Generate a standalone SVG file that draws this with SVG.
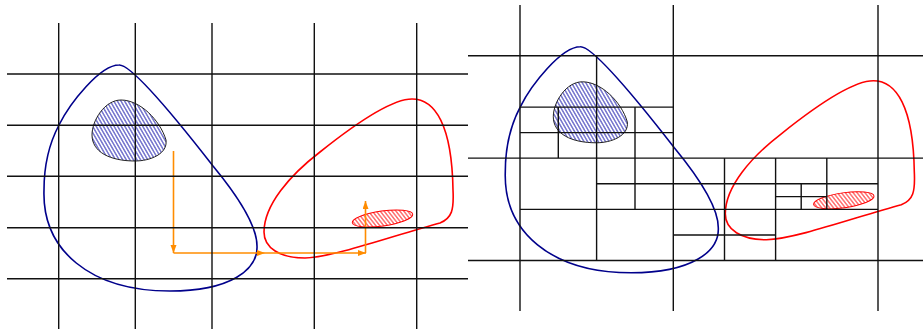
<svg xmlns="http://www.w3.org/2000/svg" xmlns:xlink="http://www.w3.org/1999/xlink" width="923" height="329" viewBox="0 0 923 329">
<style>
.grid line{stroke:#111;stroke-width:1.4;fill:none}
.blue{fill:none;stroke:#00008b;stroke-width:1.6}
.red{fill:none;stroke:#ff0000;stroke-width:1.6}
.blob{fill:url(#hatchBlue);stroke:#222;stroke-width:1}
.rell{fill:url(#hatchRed);stroke:#ff0000;stroke-width:1}
.arrow{fill:none;stroke:#ff8c00;stroke-width:1.6}
</style>
<defs>
<pattern id="hatchBlue" patternUnits="userSpaceOnUse" width="3.1" height="10" patternTransform="rotate(-30)">
<line x1="1.55" y1="-1" x2="1.55" y2="11" stroke="#2424b0" stroke-width="0.95"/>
</pattern>
<pattern id="hatchRed" patternUnits="userSpaceOnUse" width="3.1" height="10" patternTransform="rotate(-30)">
<line x1="1.55" y1="-1" x2="1.55" y2="11" stroke="#ff1010" stroke-width="0.9"/>
</pattern>
<marker id="ah" markerUnits="userSpaceOnUse" markerWidth="9" markerHeight="7" refX="8" refY="3" orient="auto">
<path d="M0,0 L8,3 L0,6 Z" fill="#ff8c00"/>
</marker>
<path id="blueLoop" d="M119,65 C132,64 185,130 213,166 C232,189 257,222 257,246 C258,270 230,291 170,291 C90,291 42,250 44,190 C44,165 50,142 59,125 C70,103 100,65 119,65 Z"/>
<path id="blobShape" d="M121,100 C140,100 160,120 166,140 C168,154 150,161 135,161 C110,161 92,152 92,135 C92,120 105,100 121,100 Z"/>
<path id="redLoop" d="M412,99 C435,99 452,125 453,190 C454,210 452,218 440,223 C395,235 335,257 305,258 C280,258 264,248 264,232 C264,205 290,175 320,152 C350,128 390,99 412,99 Z"/>
<ellipse id="redEll" cx="382.5" cy="218.5" rx="30.5" ry="7.5" transform="rotate(-8 382.5 218.5)"/>
</defs>

<g id="left-panel">
<g id="left-shapes">
<use id="left-blob" href="#blobShape" class="blob"/>
<use id="left-red-ellipse" href="#redEll" class="rell"/>
<use id="left-blue-loop" href="#blueLoop" class="blue"/>
<use id="left-red-loop" href="#redLoop" class="red"/>
</g>
<g id="connectors">
<path class="arrow" d="M173.5,151 V253" marker-end="url(#ah)"/>
<path class="arrow" d="M173.5,253 H265" marker-end="url(#ah)"/>
<path class="arrow" d="M265,253 H366" marker-end="url(#ah)"/>
<path class="arrow" d="M365.5,253 V201" marker-end="url(#ah)"/>
</g>
<g id="left-grid" class="grid">
<line x1="58.7" y1="23" x2="58.7" y2="329"/>
<line x1="135.3" y1="23" x2="135.3" y2="329"/>
<line x1="212" y1="23" x2="212" y2="329"/>
<line x1="314.3" y1="23" x2="314.3" y2="329"/>
<line x1="416.7" y1="23" x2="416.7" y2="329"/>
<line x1="7" y1="74" x2="468" y2="74"/>
<line x1="7" y1="125.3" x2="468" y2="125.3"/>
<line x1="7" y1="176.3" x2="468" y2="176.3"/>
<line x1="7" y1="227.7" x2="468" y2="227.7"/>
<line x1="7" y1="278.7" x2="468" y2="278.7"/>
</g>
</g>

<g id="right-panel">
<g id="right-shapes" transform="translate(461.3,-18.2)">
<use id="right-blob" href="#blobShape" class="blob"/>
<use id="right-red-ellipse" href="#redEll" class="rell"/>
<use id="right-blue-loop" href="#blueLoop" class="blue"/>
<use id="right-red-loop" href="#redLoop" class="red"/>
</g>
<g id="right-grid" class="grid">
<line x1="520" y1="5" x2="520" y2="311"/>
<line x1="673.3" y1="5" x2="673.3" y2="311"/>
<line x1="878" y1="5" x2="878" y2="311"/>
<line x1="468" y1="55.8" x2="923" y2="55.8"/>
<line x1="468" y1="158.1" x2="923" y2="158.1"/>
<line x1="468" y1="260.5" x2="923" y2="260.5"/>
<line x1="596.6" y1="55.8" x2="596.6" y2="260.5"/>
<line x1="775.6" y1="158.1" x2="775.6" y2="260.5"/>
<line x1="520" y1="107.1" x2="673.3" y2="107.1"/>
<line x1="520" y1="209.4" x2="878" y2="209.4"/>
<line x1="520" y1="132.6" x2="673.3" y2="132.6"/>
<line x1="558.3" y1="107.1" x2="558.3" y2="158.1"/>
<line x1="635" y1="107.1" x2="635" y2="209.4"/>
<line x1="596.6" y1="183.8" x2="878" y2="183.8"/>
<line x1="724.5" y1="158.1" x2="724.5" y2="260.5"/>
<line x1="826.8" y1="158.1" x2="826.8" y2="209.4"/>
<line x1="673.3" y1="235" x2="775.6" y2="235"/>
<line x1="801.2" y1="183.8" x2="801.2" y2="209.4"/>
<line x1="775.6" y1="196.6" x2="826.8" y2="196.6"/>
</g>
</g>
</svg>
